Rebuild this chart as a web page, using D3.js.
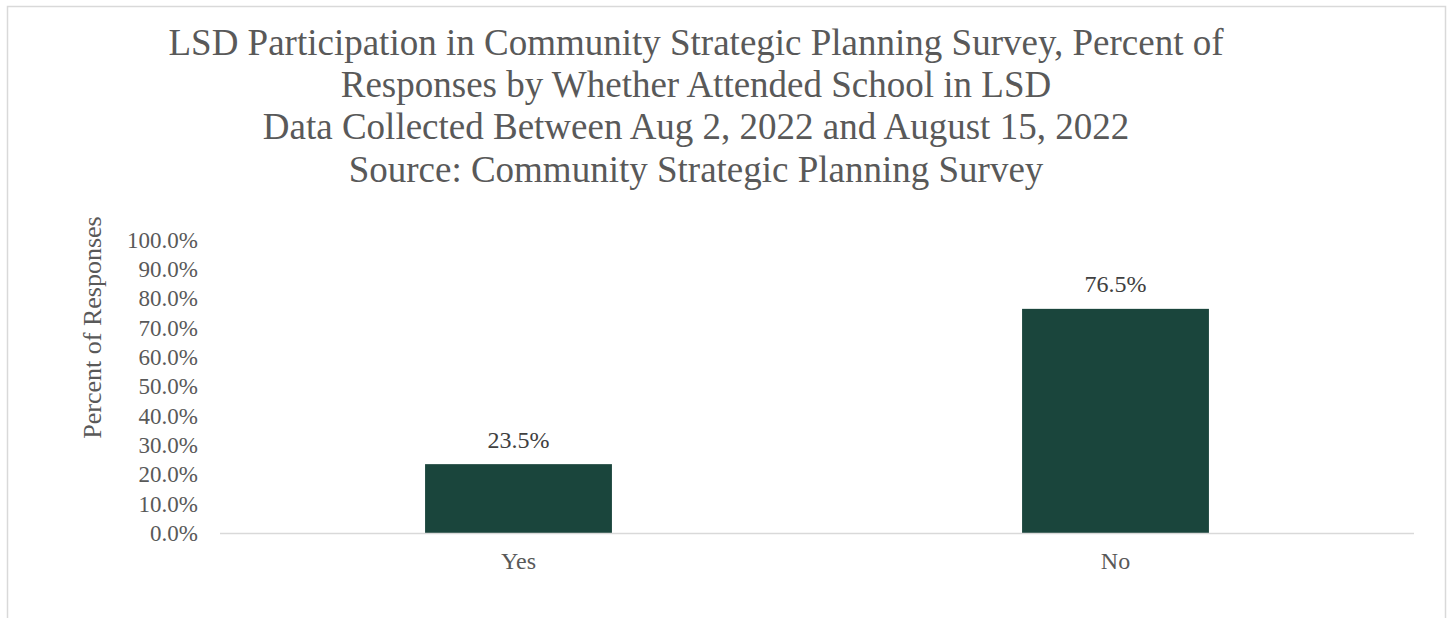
<!DOCTYPE html>
<html>
<head>
<meta charset="utf-8">
<script src="https://cdn.jsdelivr.net/npm/d3@7/dist/d3.min.js"></script>
<style>
  html, body { margin: 0; padding: 0; background: #fff; }
  svg { display: block; }
  text { font-family: "Liberation Serif", "Times New Roman", serif; }
</style>
</head>
<body>
<svg id="chart" width="1450" height="618"></svg>
<script>
const categories = ["Yes", "No"];
const values = [23.5, 76.5];
const yTicks = [0, 10, 20, 30, 40, 50, 60, 70, 80, 90, 100];
const titleLines = [
  "LSD Participation in Community Strategic Planning Survey, Percent of",
  "Responses by Whether Attended School in LSD",
  "Data Collected Between Aug 2, 2022 and August 15, 2022",
  "Source: Community Strategic Planning Survey"
];
const yAxisTitle = "Percent of Responses";

const svg = d3.select("#chart");
const plot = { left: 220, right: 1414, top: 240, bottom: 533 };

// chart border
svg.append("rect")
  .attr("x", 7.5).attr("y", 6.5)
  .attr("width", 1438).attr("height", 640)
  .attr("fill", "#fff")
  .attr("stroke", "#d9d9d9").attr("stroke-width", 1.5);

// title
const title = svg.append("text")
  .attr("text-anchor", "middle")
  .attr("fill", "#595959")
  .style("font-size", "37px");
titleLines.forEach((t, i) => {
  title.append("tspan").attr("x", 696).attr("y", 54.5 + i * 42.4).text(t);
});

const x = d3.scaleBand()
  .domain(categories)
  .range([plot.left, plot.right])
  .paddingInner(0.687)
  .paddingOuter(0.3435);

const y = d3.scaleLinear()
  .domain([0, 100])
  .range([plot.bottom, plot.top]);

// y axis
const yAxis = d3.axisLeft(y)
  .tickValues(yTicks)
  .tickFormat(d => d.toFixed(1) + "%")
  .tickSize(0)
  .tickPadding(0);
const gy = svg.append("g")
  .attr("transform", `translate(${plot.left - 22},0)`)
  .call(yAxis);
gy.select(".domain").remove();
gy.selectAll("text")
  .attr("fill", "#595959")
  .style("font-family", "'Liberation Serif', 'Times New Roman', serif")
  .style("font-size", "23px");

// y axis title
svg.append("text")
  .attr("transform", `translate(101,${(plot.top + plot.bottom) / 2 - 59}) rotate(-90)`)
  .attr("text-anchor", "middle")
  .attr("fill", "#595959")
  .style("font-size", "26px")
  .text(yAxisTitle);

// bars
svg.append("g").selectAll("rect")
  .data(categories)
  .join("rect")
  .attr("x", d => x(d))
  .attr("width", x.bandwidth())
  .attr("y", (d, i) => y(values[i]))
  .attr("height", (d, i) => y(0) - y(values[i]))
  .attr("fill", "#1a453c");

// data labels
svg.append("g").selectAll("text")
  .data(categories)
  .join("text")
  .attr("x", d => x(d) + x.bandwidth() / 2)
  .attr("y", (d, i) => y(values[i]) - 16.5)
  .attr("text-anchor", "middle")
  .attr("fill", "#404040")
  .style("font-size", "24px")
  .text((d, i) => values[i].toFixed(1) + "%");

// x axis
const xAxis = d3.axisBottom(x).tickSize(0).tickPadding(0);
const gx = svg.append("g")
  .attr("transform", `translate(0,${plot.bottom})`)
  .call(xAxis);
gx.select(".domain")
  .attr("stroke", "#d9d9d9").attr("stroke-width", 1.5)
  .attr("d", `M${plot.left},0.5H${plot.right}`);
gx.selectAll("text")
  .attr("dy", null)
  .attr("y", 36)
  .attr("fill", "#595959")
  .style("font-family", "'Liberation Serif', 'Times New Roman', serif")
  .style("font-size", "24px");
</script>
</body>
</html>
